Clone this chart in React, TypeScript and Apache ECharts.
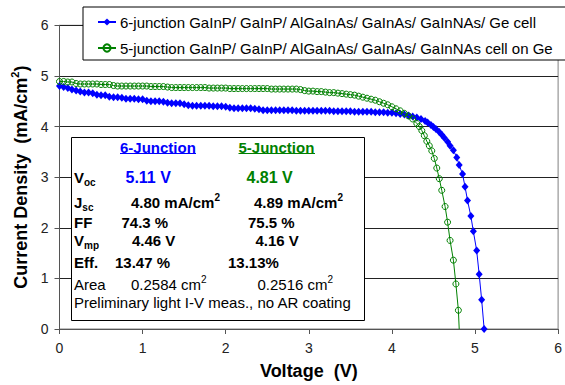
import React, { useEffect, useRef } from "react";
import * as echarts from "echarts";

// 6-junction cell: voltage (V) and current density (mA/cm²)
const sixJunctionV = [
  0, 0.05, 0.1, 0.15, 0.2, 0.25, 0.3, 0.35, 0.4, 0.45, 0.5, 0.55, 0.6, 0.65, 0.7, 0.75, 0.8, 0.85, 0.9, 0.95,
  1.0, 1.05, 1.1, 1.15, 1.2, 1.25, 1.3, 1.35, 1.4, 1.45, 1.5, 1.55, 1.6, 1.65, 1.7, 1.75, 1.8, 1.85, 1.9, 1.95,
  2.0, 2.05, 2.1, 2.15, 2.2, 2.25, 2.3, 2.35, 2.4, 2.45, 2.5, 2.55, 2.6, 2.65, 2.7, 2.75, 2.8, 2.85, 2.9, 2.95,
  3.0, 3.05, 3.1, 3.15, 3.2, 3.25, 3.3, 3.35, 3.4, 3.45, 3.5, 3.55, 3.6, 3.65, 3.7, 3.75, 3.8, 3.85, 3.9, 3.95,
  4.0, 4.05, 4.1, 4.15, 4.2, 4.25, 4.3, 4.35, 4.4, 4.43, 4.47, 4.5, 4.53, 4.57, 4.6, 4.63, 4.67, 4.7, 4.74,
  4.78, 4.81, 4.85, 4.88, 4.91, 4.95, 4.98, 5.02, 5.05, 5.08, 5.11,
];
const sixJunctionJ = [
  4.8, 4.78, 4.76, 4.73, 4.71, 4.69, 4.67, 4.67, 4.66, 4.63, 4.62, 4.62, 4.59, 4.58, 4.58, 4.57, 4.55, 4.55, 4.55, 4.54,
  4.54, 4.51, 4.5, 4.5, 4.5, 4.49, 4.47, 4.46, 4.46, 4.46, 4.44, 4.42, 4.41, 4.41, 4.41, 4.41, 4.41, 4.4, 4.4, 4.4,
  4.39, 4.37, 4.36, 4.36, 4.36, 4.36, 4.36, 4.35, 4.34, 4.32, 4.32, 4.32, 4.32, 4.32, 4.32, 4.32, 4.32, 4.31, 4.31, 4.31,
  4.31, 4.31, 4.31, 4.31, 4.31, 4.31, 4.3, 4.3, 4.3, 4.3, 4.3, 4.29, 4.29, 4.29, 4.29, 4.29, 4.28, 4.28, 4.28, 4.27,
  4.27, 4.26, 4.25, 4.24, 4.22, 4.2, 4.18, 4.15, 4.11, 4.08, 4.03, 3.99, 3.95, 3.89, 3.84, 3.78, 3.7, 3.62, 3.53,
  3.39, 3.24, 3.06, 2.81, 2.54, 2.23, 1.93, 1.55, 1.08, 0.58, 0,
];

// 5-junction cell: voltage (V) and current density (mA/cm²)
const fiveJunctionV = [
  0, 0.05, 0.1, 0.15, 0.2, 0.25, 0.3, 0.35, 0.4, 0.45, 0.5, 0.55, 0.6, 0.65, 0.7, 0.75, 0.8, 0.85, 0.9, 0.95,
  1.0, 1.05, 1.1, 1.15, 1.2, 1.25, 1.3, 1.35, 1.4, 1.45, 1.5, 1.55, 1.6, 1.65, 1.7, 1.75, 1.8, 1.85, 1.9, 1.95,
  2.0, 2.05, 2.1, 2.15, 2.2, 2.25, 2.3, 2.35, 2.4, 2.45, 2.5, 2.55, 2.6, 2.65, 2.7, 2.75, 2.8, 2.85, 2.9, 2.95,
  3.0, 3.05, 3.1, 3.15, 3.2, 3.25, 3.3, 3.35, 3.4, 3.45, 3.5, 3.55, 3.6, 3.65, 3.7, 3.75, 3.8, 3.85, 3.9, 3.95,
  4.0, 4.05, 4.1, 4.15, 4.2, 4.25, 4.3, 4.33, 4.36, 4.39, 4.42, 4.45, 4.48, 4.51, 4.54, 4.57, 4.6, 4.64, 4.67,
  4.7, 4.74, 4.77, 4.8, 4.81,
];
const fiveJunctionJ = [
  4.89, 4.89, 4.88, 4.88, 4.85, 4.84, 4.84, 4.84, 4.84, 4.84, 4.83, 4.83, 4.83, 4.81, 4.8, 4.8, 4.8, 4.8, 4.8, 4.8,
  4.8, 4.8, 4.79, 4.79, 4.79, 4.79, 4.78, 4.77, 4.77, 4.77, 4.77, 4.77, 4.77, 4.77, 4.77, 4.77, 4.76, 4.76, 4.76, 4.76,
  4.76, 4.75, 4.75, 4.75, 4.75, 4.75, 4.75, 4.75, 4.75, 4.75, 4.75, 4.74, 4.74, 4.74, 4.74, 4.74, 4.74, 4.74, 4.73, 4.71,
  4.7, 4.7, 4.69, 4.69, 4.68, 4.67, 4.67, 4.66, 4.65, 4.64, 4.63, 4.62, 4.6, 4.58, 4.56, 4.54, 4.52, 4.49, 4.46, 4.43,
  4.39, 4.35, 4.31, 4.26, 4.21, 4.15, 4.06, 4.0, 3.92, 3.82, 3.71, 3.62, 3.52, 3.37, 3.18, 2.97, 2.74, 2.42, 2.11,
  1.75, 1.36, 0.89, 0.37, 0,
];

const seriesNames = [
  "6-junction GaInP/ GaInP/ AlGaInAs/ GaInAs/ GaInNAs/ Ge cell",
  "5-junction GaInP/ GaInP/ AlGaInAs/ GaInAs/ GaInNAs cell on Ge",
];

const axisTicks = [0, 1, 2, 3, 4, 5, 6];

// Summary table values
const columnHeads = ["6-Junction", "5-Junction"];
const vocValues = ["5.11 V", "4.81 V"];
const jscValues = ["4.80", "4.89"];
const ffValues = ["74.3 %", "75.5 %"];
const vmpValues = ["4.46 V", "4.16 V"];
const effValues = ["13.47 %", "13.13%"];
const areaValues = ["0.2584", "0.2516"];
const noteText = "Preliminary light I-V meas., no AR coating";

const BLUE = "#0000FF";
const GREEN = "#008000";
const FONT = "'Liberation Sans', Arial, sans-serif";
const BOX_Z = 100;

export default function App() {
  const ref = useRef<HTMLDivElement>(null);

  useEffect(() => {
    if (!ref.current) return;
    const chart = echarts.init(ref.current, null, { renderer: "svg" });

    const blueData = sixJunctionV.map((v, i) => [v, sixJunctionJ[i]]);
    const greenData = fiveJunctionV.map((v, i) =>
      fiveJunctionJ[i] === 0
        ? { value: [v, fiveJunctionJ[i]], symbol: "none" }
        : [v, fiveJunctionJ[i]]
    );

    const bold15 = { fontFamily: FONT, fontSize: 15, fontWeight: "bold", fill: "#000" };
    const LH = 20;
    // zrender rich-text styles for the summary table
    const richRow = {
      b: { fontFamily: FONT, fontSize: 15, fontWeight: "bold", fill: "#000", lineHeight: LH, verticalAlign: "middle" },
      n: { fontFamily: FONT, fontSize: 15, fill: "#000", lineHeight: LH, verticalAlign: "middle" },
      sub: { fontFamily: FONT, fontSize: 10, fontWeight: "bold", fill: "#000", lineHeight: LH, verticalAlign: "bottom" },
      sup: { fontFamily: FONT, fontSize: 10, fontWeight: "bold", fill: "#000", lineHeight: LH, verticalAlign: "top" },
      supn: { fontFamily: FONT, fontSize: 10, fill: "#000", lineHeight: LH, verticalAlign: "top" },
      vb: { fontFamily: FONT, fontSize: 16, fontWeight: "bold", fill: BLUE, lineHeight: LH, verticalAlign: "middle" },
      vg: { fontFamily: FONT, fontSize: 16, fontWeight: "bold", fill: GREEN, lineHeight: LH, verticalAlign: "middle" },
    };

    const rowText = (x: number, y: number, text: string) => ({
      type: "text",
      z: BOX_Z + 1,
      x,
      y,
      style: { text, rich: richRow, verticalAlign: "middle", align: "left" },
    });

    const option: any = {
      animation: false,
      backgroundColor: "#fff",
      grid: {
        left: 59.5,
        right: 5.7,
        top: 25.3,
        bottom: 51.7,
        show: true,
        borderColor: "#808080",
        borderWidth: 1,
        backgroundColor: "transparent",
      },
      legend: {
        orient: "vertical",
        left: 83,
        top: 7,
        padding: [7, 14, 4, 14],
        itemGap: 10,
        itemWidth: 18,
        itemHeight: 9,
        backgroundColor: "#fff",
        borderColor: "#000",
        borderWidth: 1,
        borderRadius: 0,
        selectedMode: false,
        textStyle: { fontFamily: FONT, fontSize: 15, color: "#000", lineHeight: 16, padding: [0, 0, 0, -1] },
        data: seriesNames,
      },
      xAxis: {
        type: "value",
        min: axisTicks[0],
        max: axisTicks[axisTicks.length - 1],
        interval: 1,
        name: "Voltage  (V)",
        nameLocation: "middle",
        nameGap: 33,
        nameTextStyle: { fontFamily: FONT, fontSize: 18, fontWeight: "bold", color: "#000" },
        axisLine: { lineStyle: { color: "#555", width: 1 } },
        axisTick: { show: true, length: 5, lineStyle: { color: "#555" } },
        axisLabel: { fontFamily: FONT, fontSize: 14, color: "#222", margin: 12 },
        splitLine: { show: false },
      },
      yAxis: {
        type: "value",
        min: axisTicks[0],
        max: axisTicks[axisTicks.length - 1],
        interval: 1,
        name: "{a|Current Density  (mA/cm}{s|2}{a|)}",
        nameLocation: "middle",
        nameGap: 21,
        nameTextStyle: {
          rich: {
            a: { fontFamily: FONT, fontSize: 18, fontWeight: "bold", color: "#000", lineHeight: 22, verticalAlign: "middle" },
            s: { fontFamily: FONT, fontSize: 11, fontWeight: "bold", color: "#000", lineHeight: 22, verticalAlign: "top" },
          },
        },
        axisLine: { show: true, lineStyle: { color: "#555", width: 1 } },
        axisTick: { show: true, length: 5, lineStyle: { color: "#555" } },
        axisLabel: { fontFamily: FONT, fontSize: 14, color: "#222", margin: 11 },
        splitLine: { show: true, lineStyle: { color: "#222", width: 1 } },
      },
      series: [
        {
          name: seriesNames[0],
          type: "line",
          data: blueData,
          symbol: "diamond",
          symbolSize: [7, 8],
          showAllSymbol: true,
          lineStyle: { color: BLUE, width: 1 },
          itemStyle: { color: BLUE },
          z: 3,
        },
        {
          name: seriesNames[1],
          type: "line",
          data: greenData,
          symbol: "circle",
          symbolSize: 6,
          showAllSymbol: true,
          lineStyle: { color: GREEN, width: 1 },
          itemStyle: { color: "rgba(0,0,0,0)", borderColor: GREEN, borderWidth: 1 },
          z: 4,
        },
      ],
      graphic: [
        {
          type: "rect",
          z: BOX_Z,
          shape: { x: 71.5, y: 137.5, width: 293, height: 183 },
          style: { fill: "#fff", stroke: "#000", lineWidth: 1 },
        },
        // Column headings
        {
          type: "text",
          z: BOX_Z + 1,
          x: 120,
          y: 147,
          style: { ...bold15, text: columnHeads[0], fill: BLUE, verticalAlign: "middle" },
        },
        {
          type: "line",
          z: BOX_Z + 1,
          shape: { x1: 120, y1: 153.5, x2: 196, y2: 153.5 },
          style: { stroke: BLUE, lineWidth: 1.2 },
        },
        {
          type: "text",
          z: BOX_Z + 1,
          x: 238.5,
          y: 147,
          style: { ...bold15, text: columnHeads[1], fill: GREEN, verticalAlign: "middle" },
        },
        {
          type: "line",
          z: BOX_Z + 1,
          shape: { x1: 238.5, y1: 153.5, x2: 315, y2: 153.5 },
          style: { stroke: GREEN, lineWidth: 1.2 },
        },
        // Voc
        rowText(74, 177, "{b|V}{sub|oc}"),
        rowText(125.5, 177, `{vb|${vocValues[0]}}`),
        rowText(246.5, 177, `{vg|${vocValues[1]}}`),
        // Jsc
        rowText(74, 202, "{b|J}{sub|sc}"),
        rowText(131, 202, `{b|${jscValues[0]} mA/cm}{sup|2}`),
        rowText(254, 202, `{b|${jscValues[1]} mA/cm}{sup|2}`),
        // FF
        rowText(74, 222, "{b|FF}"),
        rowText(121.5, 222, `{b|${ffValues[0]}}`),
        rowText(248, 222, `{b|${ffValues[1]}}`),
        // Vmp
        rowText(74, 240, "{b|V}{sub|mp}"),
        rowText(132, 240, `{b|${vmpValues[0]}}`),
        rowText(255.5, 240, `{b|${vmpValues[1]}}`),
        // Efficiency
        rowText(74, 262.5, "{b|Eff.}"),
        rowText(115, 262.5, `{b|${effValues[0]}}`),
        rowText(228, 262.5, `{b|${effValues[1]}}`),
        // Area
        rowText(74, 284, "{n|Area}"),
        rowText(131, 284, `{n|${areaValues[0]} cm}{supn|2}`),
        rowText(257.5, 284, `{n|${areaValues[1]} cm}{supn|2}`),
        // Note
        rowText(74, 302.5, `{n|${noteText}}`),
      ],
    };

    chart.setOption(option);
    return () => chart.dispose();
  }, []);

  return <div ref={ref} style={{ width: 565, height: 385, position: "absolute", left: 0, top: 0 }} />;
}
